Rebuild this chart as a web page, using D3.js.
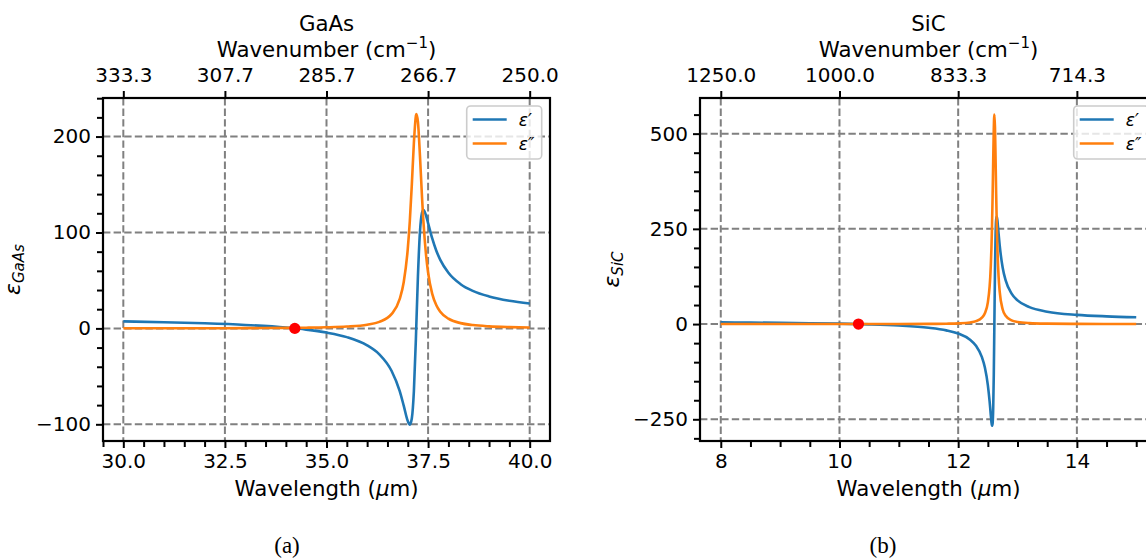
<!DOCTYPE html>
<html><head><meta charset="utf-8">
<script src="https://cdn.jsdelivr.net/npm/d3@7/dist/d3.min.js"></script>
<style>
body{margin:0;background:#fff}
text{font-family:"DejaVu Sans",sans-serif;fill:#000}
</style>
</head><body>
<svg id="c" width="1146" height="559" xmlns="http://www.w3.org/2000/svg"></svg>
<script>
// ---------- GaAs (a) ----------
const gaasWavelength = [30, 31, 32, 33, 34, 34.5, 35, 35.5, 36, 36.3, 36.6, 36.8, 36.9, 37.0, 37.05, 37.1, 37.15, 37.2, 37.21, 37.25, 37.3, 37.35, 37.38, 37.4, 37.45, 37.5, 37.6, 37.7, 37.8, 38, 38.3, 38.6, 39, 39.5, 40];
const gaasEpsReal = [7.27, 6.45, 5.30, 3.61, 0.86, -1.27, -4.37, -9.10, -17.71, -27.05, -44.19, -65.2, -80.5, -96.6, -100.45, -93.7, -65.75, -10.9, 2.7, 54.3, 100.6, 120.5, 123.4, 123.0, 117.7, 109.75, 94.0, 81.2, 71.5, 58.0, 46.1, 39.1, 33.3, 28.8, 25.9];
const gaasEpsImag = [0.08, 0.11, 0.17, 0.28, 0.50, 0.73, 1.12, 1.91, 3.88, 6.84, 14.83, 30.42, 48.15, 82.85, 111.7, 150.2, 193.0, 221.6, 223.5, 215.4, 179.8, 137.3, 114.5, 102.3, 76.4, 58.3, 36.3, 24.4, 17.4, 10.1, 5.49, 3.45, 2.13, 1.34, 0.93];
const gaasZeroPoint = [34.22, 0];
const gaasXTicks = [30, 32.5, 35, 37.5, 40];
const gaasTopTickLabels = ["333.3", "307.7", "285.7", "266.7", "250.0"];
const gaasYTicks = [-100, 0, 100, 200];
const gaasXLimits = [29.5, 40.5];
const gaasYLimits = [-117.4, 240.2];

// ---------- SiC (b) ----------
const sicWavelength = [8, 8.5, 9, 9.5, 10, 10.5, 11, 11.5, 11.8, 12.0, 12.2, 12.3, 12.4, 12.45, 12.5, 12.53, 12.54, 12.55, 12.56, 12.57, 12.58, 12.59, 12.60, 12.61, 12.62, 12.63, 12.64, 12.65, 12.66, 12.67, 12.68, 12.7, 12.75, 12.8, 12.9, 13.0, 13.2, 13.5, 14, 14.5, 15];
const sicEpsReal = [4.47, 3.95, 3.27, 2.36, 1.10, -0.77, -3.82, -9.62, -16.56, -24.86, -41.2, -57.0, -86.9, -114.1, -160.2, -203.8, -221.3, -239.7, -256.4, -267.1, -261.3, -222.4, -133.0, 2.0, 139.0, 231.6, 274.5, 282.5, 273.3, 257.2, 239.1, 205.8, 147.8, 114.7, 79.8, 62.1, 44.4, 32.6, 24.2, 20.3, 18.0];
const sicEpsImag = [0.01, 0.02, 0.03, 0.05, 0.07, 0.12, 0.23, 0.53, 1.05, 1.91, 4.35, 7.68, 16.7, 28.4, 57.0, 98.9, 122.3, 154.3, 197.3, 256.9, 334.3, 426.5, 511.9, 550.4, 517.0, 435.0, 342.3, 263.2, 203.6, 159.5, 126.5, 84.3, 38.4, 21.7, 9.66, 5.46, 2.47, 1.14, 0.50, 0.29, 0.19];
const sicZeroPoint = [10.32, 0];
const sicXTicks = [8, 10, 12, 14];
const sicTopTickLabels = ["1250.0", "1000.0", "833.3", "714.3"];
const sicYTicks = [-250, 0, 250, 500];
const sicXLimits = [7.65, 15.35];
const sicYLimits = [-307, 593.6];

const seriesNames = ["ε′", "ε″"];
const seriesColors = ["#1f77b4", "#ff7f0e"];

const svg = d3.select("#c");
const FS = 20;
const LFS = 21.3;

function panel(o) {
  const g = svg.append("g");
  const x = d3.scaleLinear().domain(o.xLim).range([o.left, o.right]);
  const y = d3.scaleLinear().domain(o.yLim).range([o.bottom, o.top]);

  // grid
  const grid = g.append("g").attr("stroke", "#808080").attr("stroke-width", 2).attr("stroke-dasharray", "7.4,3.2");
  o.xTicks.forEach(v => grid.append("line").attr("x1", x(v)).attr("x2", x(v)).attr("y1", o.top).attr("y2", o.bottom));
  o.yTicks.forEach(v => grid.append("line").attr("x1", o.left).attr("x2", o.right).attr("y1", y(v)).attr("y2", y(v)));

  // curves
  const line = d3.line().x(d => x(d[0])).y(d => y(d[1])).curve(d3.curveMonotoneX);
  [o.re, o.im].forEach((vals, i) => {
    g.append("path").datum(o.wl.map((w, k) => [w, vals[k]]))
      .attr("d", line).attr("fill", "none").attr("stroke", seriesColors[i])
      .attr("stroke-width", 2.6).attr("stroke-linejoin", "round");
  });
  g.append("circle").attr("cx", x(o.zero[0])).attr("cy", y(o.zero[1])).attr("r", 5.6).attr("fill", "#ff0000");

  // axes
  const minorX = d3.range(Math.ceil(o.xLim[0] / o.xMinorStep) * o.xMinorStep, o.xLim[1], o.xMinorStep)
    .filter(v => !o.xTicks.some(t => Math.abs(t - v) < 1e-6));
  const minorY = d3.range(Math.ceil(o.yLim[0] / o.yMinorStep) * o.yMinorStep, o.yLim[1], o.yMinorStep)
    .filter(v => !o.yTicks.some(t => Math.abs(t - v) < 1e-6));

  const styleAxis = sel => {
    sel.select(".domain").remove();
    sel.selectAll("line").attr("stroke", "#000").attr("stroke-width", 2);
    sel.selectAll("text").attr("font-size", FS).attr("font-family", "DejaVu Sans");
  };
  g.append("g").attr("transform", `translate(0,${o.bottom})`)
    .call(d3.axisBottom(x).tickValues(o.xTicks).tickFormat(o.xFmt).tickSize(7).tickPadding(6)).call(styleAxis);
  g.append("g").attr("transform", `translate(0,${o.bottom})`)
    .call(d3.axisBottom(x).tickValues(minorX).tickFormat("").tickSize(6)).call(styleAxis);
  g.append("g").attr("transform", `translate(0,${o.top})`)
    .call(d3.axisTop(x).tickValues(o.xTicks).tickFormat((d, i) => o.topLabels[i]).tickSize(7).tickPadding(9)).call(styleAxis);
  g.append("g").attr("transform", `translate(${o.left},0)`)
    .call(d3.axisLeft(y).tickValues(o.yTicks).tickFormat(d3.format("d")).tickSize(7).tickPadding(5)).call(styleAxis);
  g.append("g").attr("transform", `translate(${o.left},0)`)
    .call(d3.axisLeft(y).tickValues(minorY).tickFormat("").tickSize(6)).call(styleAxis);

  // spines
  g.append("rect").attr("x", o.left).attr("y", o.top).attr("width", o.right - o.left).attr("height", o.bottom - o.top)
    .attr("fill", "none").attr("stroke", "#000").attr("stroke-width", 2.2);

  const cx = (o.left + o.right) / 2;
  // titles
  g.append("text").attr("x", cx).attr("y", 31).attr("text-anchor", "middle").attr("font-size", LFS).text(o.title);
  const wn = g.append("text").attr("x", cx).attr("y", 57).attr("text-anchor", "middle").attr("font-size", LFS);
  wn.append("tspan").text("Wavenumber (cm");
  wn.append("tspan").attr("dy", -9).attr("font-size", 15).text("−1");
  wn.append("tspan").attr("dy", 9).text(")");
  const wl = g.append("text").attr("x", cx).attr("y", 496).attr("text-anchor", "middle").attr("font-size", LFS);
  wl.append("tspan").text("Wavelength (");
  wl.append("tspan").attr("font-style", "italic").text("μ");
  wl.append("tspan").text("m)");

  // y label
  const yl = g.append("text").attr("transform", `translate(${o.yLabelX},${(o.top + o.bottom) / 2}) rotate(-90)`)
    .attr("text-anchor", "middle").attr("font-size", 22);
  yl.append("tspan").attr("font-style", "italic").text("ε");
  yl.append("tspan").attr("font-style", "italic").attr("font-size", 15).attr("dy", 4).text(o.sub);

  // legend
  const lx = o.right - 83.3, ly = o.top + 8;
  const lg = g.append("g");
  lg.append("rect").attr("x", lx).attr("y", ly).attr("width", 75).attr("height", 53).attr("rx", 4)
    .attr("fill", "#fff").attr("fill-opacity", 0.8).attr("stroke", "#cccccc").attr("stroke-width", 1.6);
  seriesNames.forEach((n, i) => {
    const yy = ly + 13.5 + i * 24;
    lg.append("line").attr("x1", lx + 6).attr("x2", lx + 40).attr("y1", yy).attr("y2", yy)
      .attr("stroke", seriesColors[i]).attr("stroke-width", 2.6);
    lg.append("text").attr("x", lx + 52).attr("y", yy + 6).attr("font-size", 17).attr("font-style", "italic").text(n);
  });

  // caption
  svg.append("text").attr("x", o.capX).attr("y", 553).attr("text-anchor", "middle")
    .style("font-family", "'Liberation Serif',serif")
    .attr("font-size", 23).text(o.caption);
}

panel({
  left: 103, right: 550, top: 98, bottom: 441,
  xLim: gaasXLimits, yLim: gaasYLimits, xTicks: gaasXTicks, yTicks: gaasYTicks,
  xMinorStep: 0.5, yMinorStep: 20, xFmt: d3.format(".1f"), topLabels: gaasTopTickLabels,
  wl: gaasWavelength, re: gaasEpsReal, im: gaasEpsImag, zero: gaasZeroPoint,
  title: "GaAs", sub: "GaAs", yLabelX: 20, caption: "(a)", capX: 287
});
panel({
  left: 700, right: 1157, top: 98, bottom: 441,
  xLim: sicXLimits, yLim: sicYLimits, xTicks: sicXTicks, yTicks: sicYTicks,
  xMinorStep: 0.5, yMinorStep: 50, xFmt: d3.format("d"), topLabels: sicTopTickLabels,
  wl: sicWavelength, re: sicEpsReal, im: sicEpsImag, zero: sicZeroPoint,
  title: "SiC", sub: "SiC", yLabelX: 619, caption: "(b)", capX: 883
});
</script>
</body></html>
